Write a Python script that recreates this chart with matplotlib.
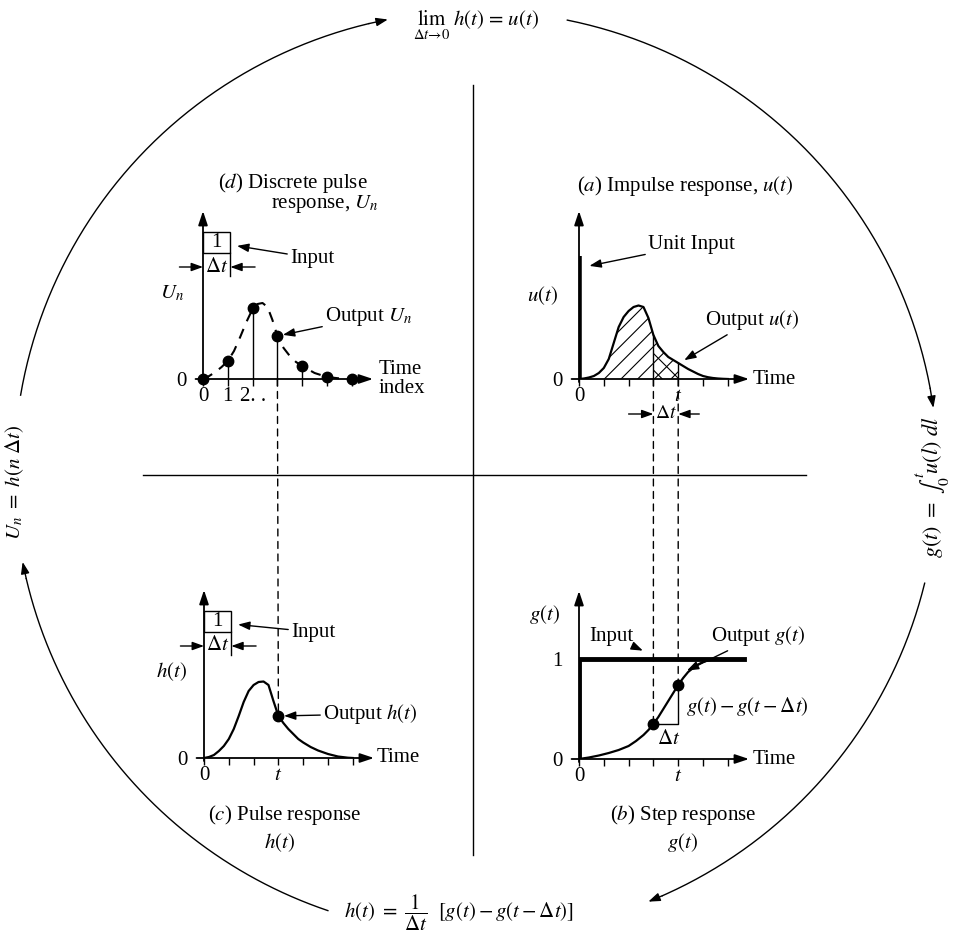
import numpy as np
import matplotlib.pyplot as plt
from matplotlib.patches import Rectangle, ConnectionPatch

plt.rcParams['font.family'] = ['Liberation Serif', 'DejaVu Serif']
plt.rcParams['mathtext.fontset'] = 'stix'
plt.rcParams['font.size'] = 15
plt.rcParams['hatch.linewidth'] = 0.8

# (d) discrete pulse response
n_index = [0, 1, 2, 3, 4, 5, 6]
U_n = [0, 0.18, 0.71, 0.43, 0.13, 0.02, 0.0]
env_t = [0, 0.25, 0.5, 0.75, 1.0, 1.25, 1.5, 1.75, 2.0, 2.2, 2.4, 2.6, 2.8, 3.0, 3.25, 3.5, 3.75,
         4.0, 4.5, 5.0, 5.5, 6.0]
env_val = [0, 0.03, 0.07, 0.12, 0.18, 0.28, 0.42, 0.57, 0.70, 0.75, 0.76, 0.72, 0.59, 0.43, 0.31,
           0.23, 0.17, 0.13, 0.06, 0.02, 0.006, 0]
d_ticklabels = ['0', '1', '2. .', '', '', '', '']

# (a) impulse response
u_t = [0, 0.2, 0.4, 0.6, 0.8, 1.0, 1.2, 1.4, 1.6, 1.8, 2.0, 2.2, 2.4, 2.6, 2.8, 3.0, 3.2, 3.4, 3.6,
       3.8, 4.0, 4.2, 4.4, 4.6, 4.8, 5.0, 5.2, 5.4, 5.6, 5.8, 6.0]
u_val = [0, 0.005, 0.015, 0.03, 0.06, 0.11, 0.2, 0.36, 0.52, 0.62, 0.68, 0.72, 0.735, 0.72, 0.61,
         0.44, 0.33, 0.27, 0.22, 0.19, 0.16, 0.13, 0.10, 0.075, 0.05, 0.03, 0.018, 0.01, 0.005,
         0.002, 0]
unit_input = 1.23

# (c) pulse response
h_t = [0, 0.2, 0.4, 0.6, 0.8, 1.0, 1.2, 1.4, 1.6, 1.8, 2.0, 2.2, 2.4, 2.6, 2.8, 3.0, 3.2, 3.4,
       3.6, 3.8, 4.0, 4.3, 4.6, 5.0, 5.4, 5.8, 6.0]
h_val = [0, 0.01, 0.03, 0.07, 0.12, 0.19, 0.29, 0.42, 0.56, 0.67, 0.73, 0.76, 0.765, 0.73, 0.57,
         0.42, 0.35, 0.29, 0.24, 0.19, 0.155, 0.11, 0.075, 0.04, 0.015, 0.003, 0]

# (b) step response
g_t = [0, 0.4, 0.8, 1.2, 1.6, 2.0, 2.3, 2.6, 2.8, 3.0, 3.2, 3.4, 3.6, 3.8, 4.0, 4.2, 4.4, 4.6,
       4.8, 5.0, 5.2, 5.4, 5.6]
g_val = [0, 0.015, 0.035, 0.06, 0.09, 0.13, 0.18, 0.24, 0.29, 0.35, 0.42, 0.50, 0.58, 0.66, 0.74,
         0.81, 0.87, 0.91, 0.945, 0.97, 0.985, 0.995, 1.0]
step_level = 1.0
step_end = 6.65

t_ab = 4      # time t in (a) and (b)
t_cd = 3      # time t in (c), sample n in (d)
at_ticklabels = ['0', '', '', '', '$t$', '', '']
c_ticklabels = ['0', '', '', '$t$', '', '', '']

W, H = 968, 939
SX, SY = 24.8, 100.0
PW, PH = 170, 168

AX_ARROW = dict(arrowstyle='-|>,head_length=0.6,head_width=0.2', color='k', lw=1.3,
                mutation_scale=14, shrinkA=0, shrinkB=0)
SMALL_ARROW = dict(arrowstyle='-|>,head_length=0.5,head_width=0.18', color='k', lw=1,
                   mutation_scale=14, shrinkA=0, shrinkB=0)
PTR = dict(arrowstyle='-|>,head_length=0.5,head_width=0.18', color='k', lw=1,
           mutation_scale=14, shrinkA=0, shrinkB=4)

fig = plt.figure(figsize=(W / 100, H / 100), dpi=100)
bg = fig.add_axes([0, 0, 1, 1])
bg.set_xlim(0, W)
bg.set_ylim(H, 0)
bg.axis('off')

# quadrant cross
bg.plot([473, 473], [85, 855], color='k', lw=1)
bg.plot([143, 806], [475, 475], color='k', lw=1)

# outer circle of arrows
CX, CY, R = 476, 473, 462
arcs = [(189.7, 259.0), (281.4, 351.9), (13.8, 68.1), (108.7, 168.9)]
for a0, a1 in arcs:
    th = np.radians(np.linspace(a0, a1, 200))
    x = CX + R * np.cos(th)
    y = CY + R * np.sin(th)
    bg.plot(x[:-7], y[:-7], color='k', lw=1)
    bg.annotate('', xy=(x[-1], y[-1]), xytext=(x[-8], y[-8]), arrowprops=SMALL_ARROW)

bg.text(476, 25, r'$\lim_{\Delta t \rightarrow 0}\ h(t)\ =\ u(t)$', ha='center', va='center')
bg.text(459, 913, r'$h(t)\ =\ \dfrac{1}{\Delta t}\ \ [g(t) - g(t - \Delta t)]$', ha='center',
        va='center')
bg.text(15, 482, r'$U_n\ =\ h(n\ \Delta t)$', ha='center', va='center', rotation=90)
bg.text(933, 487, r'$g(t)\ =\ \int_0^t u(l)\ dl$', ha='center', va='center', rotation=90,
        fontsize=16)


def make_panel(ox, oy, ticklabels):
    ax = fig.add_axes([ox / W, 1 - oy / H, PW / W, PH / H])
    ax.set_xlim(0, PW / SX)
    ax.set_ylim(0, PH / SY)
    ax.patch.set_visible(False)
    for s in ax.spines.values():
        s.set_visible(False)
    ax.annotate('', xy=(PW / SX, 0), xytext=(-0.3, 0), arrowprops=AX_ARROW, annotation_clip=False)
    ax.annotate('', xy=(0, PH / SY), xytext=(0, -0.03), arrowprops=AX_ARROW, annotation_clip=False)
    ax.set_xticks(range(7))
    ax.set_xticklabels(ticklabels)
    ax.tick_params(axis='x', direction='out', length=5, width=1, pad=1, labelsize=15)
    ax.tick_params(axis='y', length=0, pad=12, labelsize=15)
    return ax


def input_box(ax):
    ax.add_patch(Rectangle((0, 1.26), 1.1, 0.21, fill=False, lw=1, clip_on=False))
    ax.text(0.55, 1.365, '1', ha='center', va='center')
    ax.text(0.55, 1.12, r'$\Delta t$', ha='center', va='center')
    ax.plot([1.1, 1.1], [1.03, 1.26], color='k', lw=1, clip_on=False)
    ax.annotate('', xy=(0, 1.12), xytext=(-0.95, 1.12), arrowprops=SMALL_ARROW, annotation_clip=False)
    ax.annotate('', xy=(1.1, 1.12), xytext=(2.1, 1.12), arrowprops=SMALL_ARROW, annotation_clip=False)


# ---- (d) discrete pulse response
ax_d = make_panel(203, 379, d_ticklabels)
ax_d.set_yticks([0])
ax_d.set_yticklabels(['0'])
ax_d.plot(env_t, env_val, color='k', lw=1.5, ls=(0, (5, 4)), clip_on=False)
ax_d.vlines(n_index[1:], 0, U_n[1:], color='k', lw=1)
ax_d.plot(n_index, U_n, 'o', color='k', ms=7.5, clip_on=False)
input_box(ax_d)
ax_d.annotate('Input', xy=(1.15, 1.34), xytext=(290, 258), textcoords=bg.transData,
              ha='left', va='center', arrowprops=PTR)
ax_d.annotate('Output $U_n$', xy=(t_cd, U_n[t_cd]), xytext=(325, 317), textcoords=bg.transData,
              ha='left', va='center', arrowprops=PTR)
bg.text(172, 293, '$U_n$', ha='center', va='center')
bg.text(379, 379, 'Time\nindex', ha='left', va='center', linespacing=1.0)
bg.text(293, 183, '($d$) Discrete pulse', ha='center', va='center')
bg.text(325, 204, 'response, $U_n$', ha='center', va='center')

# ---- (a) impulse response
ax_a = make_panel(579, 379, at_ticklabels)
ax_a.set_yticks([0])
ax_a.set_yticklabels(['0'])
ut = np.array(u_t)
uv = np.array(u_val)
m = ut <= t_ab
ax_a.fill_between(ut[m], 0, uv[m], facecolor='none', edgecolor='k', hatch='//', lw=0)
m2 = (ut >= t_ab - 1) & (ut <= t_ab)
ax_a.fill_between(ut[m2], 0, uv[m2], facecolor='none', edgecolor='k', hatch='\\\\', lw=0)
ax_a.plot(u_t, u_val, color='k', lw=1.6)
for xv in (t_ab - 1, t_ab):
    ax_a.plot([xv, xv], [0, np.interp(xv, u_t, u_val)], color='k', lw=1)
ax_a.plot([0, 0], [0, unit_input], color='k', lw=4, solid_capstyle='butt')
ax_a.annotate('Unit Input', xy=(0.2, 1.12), xytext=(648, 245), textcoords=bg.transData,
              ha='left', va='center', arrowprops=PTR)
ax_a.annotate('Output $u(t)$', xy=(4.05, 0.16), xytext=(705, 320), textcoords=bg.transData,
              ha='left', va='center', arrowprops=PTR)
ax_a.text(t_ab - 0.5, -0.35, r'$\Delta t$', ha='center', va='center', fontsize=14)
ax_a.annotate('', xy=(t_ab - 1, -0.35), xytext=(t_ab - 2, -0.35), arrowprops=SMALL_ARROW,
              annotation_clip=False)
ax_a.annotate('', xy=(t_ab, -0.35), xytext=(t_ab + 0.85, -0.35), arrowprops=SMALL_ARROW,
              annotation_clip=False)
bg.text(543, 296, '$u(t)$', ha='center', va='center')
bg.text(753, 380, 'Time', ha='left', va='center')
bg.text(685, 186, '($a$) Impulse response, $u(t)$', ha='center', va='center')

# ---- (c) pulse response
ax_c = make_panel(204, 758, c_ticklabels)
ax_c.set_yticks([0])
ax_c.set_yticklabels(['0'])
ax_c.plot(h_t, h_val, color='k', lw=1.6)
h_c = np.interp(t_cd, h_t, h_val)
ax_c.plot([t_cd], [h_c], 'o', color='k', ms=7.5)
input_box(ax_c)
ax_c.annotate('Input', xy=(1.15, 1.34), xytext=(291, 632), textcoords=bg.transData,
              ha='left', va='center', arrowprops=PTR)
ax_c.annotate('Output $h(t)$', xy=(t_cd, h_c), xytext=(323, 714), textcoords=bg.transData,
              ha='left', va='center', arrowprops=PTR)
bg.text(172, 672, '$h(t)$', ha='center', va='center')
bg.text(377, 758, 'Time', ha='left', va='center')
bg.text(285, 815, '($c$) Pulse response', ha='center', va='center')
bg.text(280, 843, '$h(t)$', ha='center', va='center')

# ---- (b) step response
ax_b = make_panel(579, 759, at_ticklabels)
ax_b.set_yticks([0, 1])
ax_b.set_yticklabels(['0', '1'])
ax_b.plot([0, 0, step_end], [0, step_level, step_level], color='k', lw=3.5, solid_joinstyle='miter')
ax_b.plot(g_t, g_val, color='k', lw=1.6)
g0 = np.interp(t_ab - 1, g_t, g_val)
g1 = np.interp(t_ab, g_t, g_val)
ax_b.plot([t_ab - 1, t_ab], [g0, g1], 'o', color='k', ms=7.5)
ax_b.plot([t_ab - 1, t_ab, t_ab], [g0, g0, g1], color='k', lw=1)
ax_b.text(t_ab - 0.4, g0 - 0.16, r'$\Delta t$', ha='center', va='center')
bg.text(686, 707, r'$g(t) - g(t - \Delta t)$', ha='left', va='center')
ax_b.annotate('Input', xy=(2.78, 1.06), xytext=(611, 636), textcoords=bg.transData,
              ha='center', va='center', arrowprops=PTR)
ax_b.annotate('Output $g(t)$', xy=(4.15, 0.86), xytext=(758, 636), textcoords=bg.transData,
              ha='center', va='center', arrowprops=PTR)
bg.text(545, 615, '$g(t)$', ha='center', va='center')
bg.text(753, 759, 'Time', ha='left', va='center')
bg.text(683, 815, '($b$) Step response', ha='center', va='center')
bg.text(683, 843, '$g(t)$', ha='center', va='center')

# ---- dashed links between panels
dash = dict(color='k', lw=1, ls=(0, (5, 4)))
fig.add_artist(ConnectionPatch(xyA=(t_cd, 0), coordsA=ax_d.transData,
                               xyB=(t_cd, h_c), coordsB=ax_c.transData, **dash))
fig.add_artist(ConnectionPatch(xyA=(t_ab - 1, 0), coordsA=ax_a.transData,
                               xyB=(t_ab - 1, g0), coordsB=ax_b.transData, **dash))
fig.add_artist(ConnectionPatch(xyA=(t_ab, 0), coordsA=ax_a.transData,
                               xyB=(t_ab, g1), coordsB=ax_b.transData, **dash))

fig.savefig('out.png', dpi=100, facecolor='white')
